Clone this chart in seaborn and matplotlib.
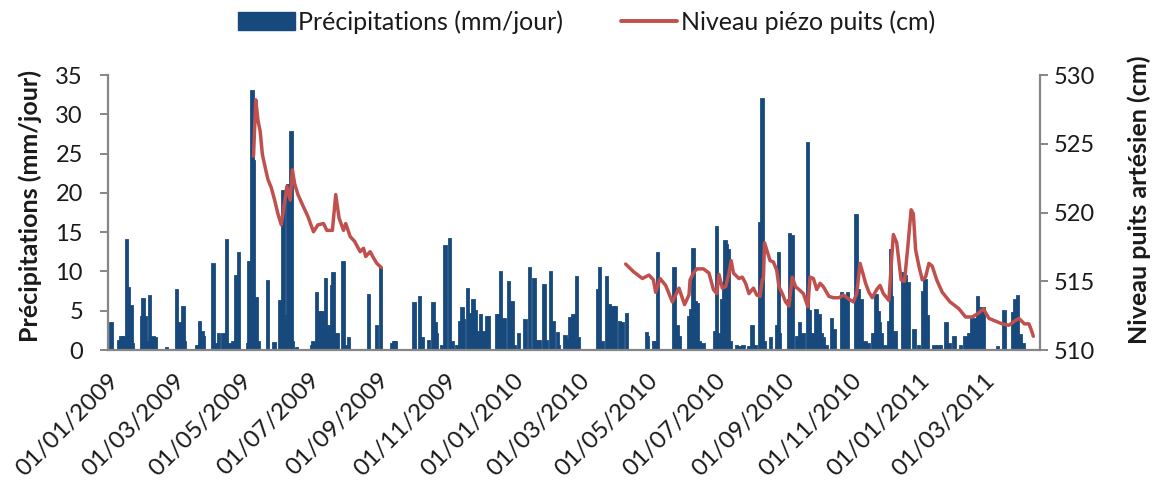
import numpy as np
import pandas as pd
import matplotlib
matplotlib.use("Agg")
import matplotlib.pyplot as plt
import seaborn as sns
from matplotlib.patches import Patch
from matplotlib.lines import Line2D

# ---------------- data ----------------
start_date = "2009-01-01"

# daily precipitation: day offset from start_date, mm/day
rain_day = [3, 10, 12, 14, 17, 19, 21, 22, 31, 32, 34, 35, 38, 41, 43, 53, 62, 65, 68, 69,
            80, 83, 85, 86, 95, 97, 100, 104, 107, 110, 113, 115, 118, 126, 127, 130, 131,
            134, 136, 144, 150, 155, 158, 159, 161, 162, 163, 165, 166, 170, 184, 185, 188,
            189, 191, 193, 196, 198, 199, 202, 203, 205, 207, 212, 214, 217, 235, 242, 246,
            256, 258, 259, 276, 281, 283, 289, 293, 295, 296, 301, 304, 308, 310, 314, 317,
            319, 320, 324, 326, 329, 331, 333, 336, 338, 341, 343, 350, 352, 354, 357, 361,
            364, 366, 370, 376, 380, 384, 386, 389, 393, 395, 399, 401, 405, 406, 412, 414,
            416, 419, 422, 424, 441, 443, 445, 449, 452, 455, 457, 461, 463, 467, 485, 486,
            492, 493, 495, 510, 513, 515, 523, 525, 527, 529, 531, 533, 536, 547, 548, 550,
            553, 555, 556, 557, 559, 561, 566, 569, 572, 577, 580, 583, 587, 588, 589, 591,
            597, 602, 604, 605, 613, 614, 616, 620, 623, 626, 630, 632, 635, 638, 641, 643,
            644, 647, 652, 654, 661, 663, 666, 674, 676, 679, 682, 685, 689, 692, 694, 695,
            697, 700, 703, 705, 706, 709, 716, 718, 721, 726, 730, 734, 736, 738, 744, 747,
            750, 755, 758, 762, 768, 772, 775, 778, 781, 783, 786, 788, 801, 807, 815, 817,
            819, 822, 824]
rain_mm = [3.4, 1.2, 1.7, 1.7, 14.0, 7.9, 5.6, 0.8, 4.2, 6.5, 4.2, 1.0, 6.9, 1.7, 1.5, 0.3,
           7.6, 3.4, 5.5, 1.0, 0.5, 3.6, 2.3, 1.6, 11.0, 0.8, 2.0, 2.0, 14.0, 0.8, 1.0, 9.4,
           12.3, 0.8, 11.2, 32.9, 24.0, 6.6, 1.0, 8.8, 0.9, 6.2, 20.2, 4.3, 3.5, 21.0, 5.0,
           27.7, 1.0, 0.3, 0.5, 1.0, 7.2, 2.5, 4.9, 4.9, 9.1, 1.5, 3.0, 8.1, 9.8, 2.0, 2.0,
           11.2, 0.5, 1.5, 7.0, 3.0, 10.5, 0.8, 1.0, 1.0, 6.0, 6.7, 1.5, 1.1, 6.0, 3.4, 2.0,
           0.5, 13.2, 14.1, 1.0, 0.5, 3.6, 5.4, 3.8, 7.8, 4.6, 6.4, 5.0, 2.3, 4.5, 2.3, 4.2,
           4.2, 4.5, 4.5, 9.9, 4.0, 8.7, 6.1, 0.5, 2.0, 3.8, 10.4, 9.0, 1.1, 1.1, 8.3, 1.1,
           9.9, 3.6, 2.2, 0.5, 1.8, 1.3, 4.1, 4.5, 9.3, 1.5, 7.6, 10.4, 1.0, 9.3, 5.7, 5.5,
           5.5, 3.6, 3.4, 4.6, 2.2, 1.7, 1.0, 1.0, 12.3, 10.5, 3.0, 1.7, 4.2, 5.1, 12.9, 6.1,
           5.9, 1.0, 0.8, 2.3, 15.6, 2.1, 6.4, 8.5, 13.9, 13.4, 12.7, 1.0, 0.5, 0.4, 0.5,
           0.4, 3.1, 0.5, 16.2, 2.0, 31.9, 1.0, 1.5, 3.0, 12.3, 2.0, 6.4, 14.8, 14.5, 1.7,
           3.4, 2.0, 26.4, 5.0, 2.0, 5.1, 4.5, 2.0, 1.5, 0.5, 4.0, 2.6, 7.3, 6.7, 7.2, 17.2,
           7.6, 6.4, 1.0, 0.8, 2.0, 7.0, 4.9, 3.4, 2.0, 0.5, 3.6, 12.7, 6.8, 2.3, 9.8, 9.4,
           8.5, 2.6, 0.5, 7.4, 8.9, 4.3, 0.5, 0.5, 0.5, 3.4, 0.8, 1.7, 0.5, 1.7, 2.0, 4.0,
           4.0, 6.7, 5.4, 5.4, 0.4, 5.0, 4.7, 6.4, 6.9, 1.9, 0.8]

# piezometric level, first measuring period
piezo1_day = [131, 133, 135, 137, 139, 142, 144, 147, 150, 153, 156, 158, 161, 164, 166, 168,
              171, 176, 180, 185, 189, 194, 197, 202, 205, 208, 212, 214, 218, 222, 227, 230,
              232, 236, 239, 242, 246]
piezo1_cm = [524.1, 528.2, 526.7, 525.9, 524.2, 523.1, 522.4, 521.8, 520.9, 519.9, 519.1,
             520.2, 521.9, 520.9, 523.1, 522.1, 521.3, 520.4, 519.7, 518.6, 519.1, 519.2,
             518.7, 518.7, 521.3, 519.6, 518.7, 519.2, 518.25, 517.9, 517.15, 517.4, 516.8,
             517.15, 516.7, 516.3, 516.0]

# piezometric level, second measuring period
piezo2_day = [466, 473, 481, 487, 491, 493, 497, 502, 508, 514, 519, 523, 524, 527, 530, 536,
              541, 545, 548, 550, 553, 556, 559, 561, 563, 568, 571, 574, 577, 581, 584, 587,
              589, 590, 591, 596, 599, 602, 604, 607, 610, 613, 616, 619, 622, 626, 630, 632,
              635, 638, 641, 644, 649, 653, 658, 662, 667, 671, 674, 677, 680, 682, 685, 688,
              692, 695, 698, 703, 706, 707, 710, 714, 717, 720, 723, 725, 727, 730, 733, 736,
              739, 742, 746, 751, 758, 766, 772, 778, 784, 788, 793, 799, 805, 811, 816, 820,
              825, 829, 831, 833]
piezo2_cm = [516.25, 515.7, 515.2, 515.45, 515.1, 514.2, 515.2, 514.7, 513.5, 514.5, 513.3,
             514.0, 515.1, 515.6, 515.9, 515.9, 515.6, 514.4, 514.1, 515.5, 514.5, 514.6,
             515.6, 516.5, 515.6, 515.2, 515.3, 514.85, 514.1, 514.5, 514.0, 513.9, 515.1,
             515.2, 517.8, 516.5, 516.4, 515.8, 514.6, 514.1, 513.5, 513.2, 515.3, 514.6,
             514.4, 514.1, 513.15, 515.3, 515.2, 514.4, 514.85, 514.6, 513.9, 513.8, 513.8,
             514.0, 513.7, 513.5, 514.1, 516.3, 515.45, 514.85, 514.2, 513.8, 514.4, 514.7,
             514.1, 513.6, 517.3, 518.4, 517.8, 515.1, 515.0, 517.5, 520.2, 519.9, 517.3,
             516.1, 515.1, 515.3, 516.3, 516.1, 515.1, 514.2, 513.5, 513.0, 512.4, 512.4,
             512.7, 513.0, 512.3, 512.1, 511.9, 511.8, 512.1, 512.3, 511.9, 511.9, 511.5,
             511.0]

xtick_dates = ["2009-01-01", "2009-03-01", "2009-05-01", "2009-07-01", "2009-09-01",
               "2009-11-01", "2010-01-01", "2010-03-01", "2010-05-01", "2010-07-01",
               "2010-09-01", "2010-11-01", "2011-01-01", "2011-03-01"]
xtick_labels = ["01/01/2009", "01/03/2009", "01/05/2009", "01/07/2009", "01/09/2009",
                "01/11/2009", "01/01/2010", "01/03/2010", "01/05/2010", "01/07/2010",
                "01/09/2010", "01/11/2010", "01/01/2011", "01/03/2011"]
x_end = "2011-04-20"

left_ticks = [0, 5, 10, 15, 20, 25, 30, 35]
right_ticks = [510, 515, 520, 525, 530]

label_rain = "Précipitations (mm/jour)"
label_piezo = "Niveau piézo puits (cm)"
ylabel_left = "Précipitations (mm/jour)"
ylabel_right = "Niveau puits artésien (cm)"

# ---------------- build frames ----------------
t0 = pd.Timestamp(start_date)
rain = pd.DataFrame({"date": t0 + pd.to_timedelta(rain_day, unit="D"), "mm": rain_mm})
p1 = pd.DataFrame({"date": t0 + pd.to_timedelta(piezo1_day, unit="D"), "cm": piezo1_cm})
p2 = pd.DataFrame({"date": t0 + pd.to_timedelta(piezo2_day, unit="D"), "cm": piezo2_cm})

# ---------------- style ----------------
sns.set_theme(style="white")
plt.rcParams["font.family"] = ["Lato", "DejaVu Sans"]

BLUE = "#17497C"
RED = "#C0504D"
GREY = "#868686"
TXT = "#1a1a1a"

fig = plt.figure(figsize=(11.55, 4.86), dpi=100)
ax = fig.add_axes([108 / 1155, 1 - 350 / 486, (1040 - 108) / 1155, (350 - 75) / 486])

ax.bar(rain["date"], rain["mm"], width=2.2, color=BLUE, edgecolor=BLUE,
       linewidth=1.3, align="center", zorder=2)
ax.set_ylim(0, 35)
ax.set_yticks(left_ticks)
ax.set_xlim(pd.Timestamp(start_date), pd.Timestamp(x_end))
ax.set_xticks(pd.to_datetime(xtick_dates))
ax.set_xticklabels(xtick_labels, rotation=45, ha="right", va="top", rotation_mode="anchor",
                   fontsize=17.5, color=TXT)
ax.set_ylabel(ylabel_left, fontsize=18, fontweight="bold", color=TXT)
ax.yaxis.set_label_coords(-0.071, 0.525)
ax.set_xlabel("")

ax2 = ax.twinx()
sns.lineplot(data=p1, x="date", y="cm", ax=ax2, color=RED, linewidth=2.5)
sns.lineplot(data=p2, x="date", y="cm", ax=ax2, color=RED, linewidth=2.5)
ax2.set_ylim(510, 530)
ax2.set_yticks(right_ticks)
ax2.set_ylabel(ylabel_right, fontsize=18, fontweight="bold", color=TXT, rotation=90)
ax2.yaxis.set_label_coords(1.094, 0.545)
ax2.set_xlabel("")
ax2.set_xlim(pd.Timestamp(start_date), pd.Timestamp(x_end))

for a in (ax, ax2):
    for s in a.spines.values():
        s.set_color(GREY)
        s.set_linewidth(1.6)
    a.spines["top"].set_visible(False)
    a.tick_params(axis="y", which="major", direction="out", length=6, width=1.4,
                  color=GREY, labelsize=17, labelcolor=TXT)
ax.tick_params(axis="x", which="major", direction="out", length=6, width=1.4,
               color=GREY, labelcolor=TXT, pad=8)
ax.tick_params(axis="y", pad=12)
ax.spines["right"].set_visible(False)
ax2.spines["left"].set_visible(False)
ax2.spines["bottom"].set_visible(False)
ax.tick_params(axis="y", left=True, right=False)
ax2.tick_params(axis="y", right=True, left=False)

handles = [Patch(facecolor=BLUE, edgecolor=BLUE), Line2D([0], [0], color=RED, linewidth=2.8)]
fig.legend(handles, [label_rain, label_piezo], loc="center", bbox_to_anchor=(0.508, 0.955),
           ncol=2, frameon=False, fontsize=18, handlelength=2.25, handleheight=0.7,
           columnspacing=2.3, handletextpad=0.15, labelcolor=TXT)

fig.savefig("out.png", dpi=100)
